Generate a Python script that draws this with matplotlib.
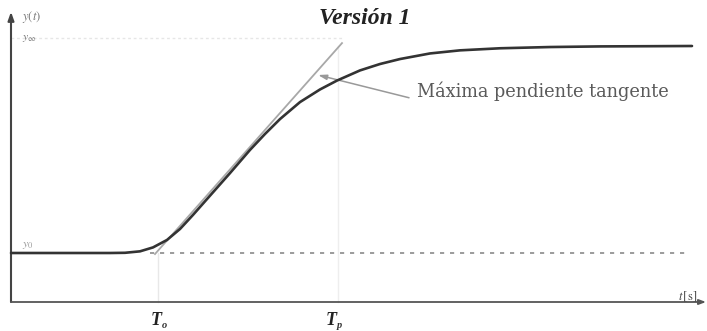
import matplotlib
matplotlib.use("Agg")
import matplotlib.pyplot as plt

# Step response y(t) (t in s, y normalized: y0=0, final=1)
t_curve = [0.0, 9.9, 11.4, 12.9, 14.2, 15.6, 16.9, 18.2, 19.7, 21.9, 23.9, 25.4,
           26.9, 28.9, 30.9, 32.6, 34.9, 36.9, 38.9, 41.9, 44.9, 48.9, 53.9, 58.9,
           63.9, 68.1]
y_curve = [0.0, 0.0, 0.001, 0.008, 0.027, 0.063, 0.116, 0.184, 0.266, 0.386,
           0.498, 0.575, 0.647, 0.729, 0.790, 0.833, 0.882, 0.913, 0.937, 0.964,
           0.979, 0.989, 0.995, 0.998, 0.999, 1.0]

# Maximum-slope tangent line
t_tangent = [14.4, 33.1]
y_tangent = [-0.005, 1.014]

# Reference levels / times
y0_level = 0.0
yinf_level = 1.039
T0 = 14.7
Tp = 32.7

title = "Versión 1"
annot_text = "Máxima pendiente tangente"

fig = plt.figure(figsize=(7.07, 3.31), dpi=100)
ax = fig.add_axes([0, 0, 1, 1])
ax.set_xlim(-1.1, 69.6)
ax.set_ylim(-0.3768, 1.2222)
ax.axis("off")

x_axis_y = -0.2367

# faint guide lines
ax.plot([0, Tp + 0.4], [yinf_level, yinf_level], color="#e6e6e6", lw=1.0,
        linestyle=(0, (2, 2)), zorder=1)
ax.plot([T0, T0], [x_axis_y, y0_level], color="#e8e8e8", lw=1.0, zorder=1)
ax.plot([Tp, Tp], [x_axis_y, 1.0], color="#eeeeee", lw=1.0, zorder=1)

# y0 dashed level
ax.plot([13.9, 67.9], [y0_level, y0_level], color="#8a8a8a", lw=1.2,
        linestyle=(0, (2.5, 3.5)), zorder=2)

# tangent
ax.plot(t_tangent, y_tangent, color="#a8a8a8", lw=1.3, zorder=3)

# response curve
ax.plot(t_curve, y_curve, color="#333333", lw=1.9, zorder=4,
        solid_capstyle="round")

# axes with arrows
ax.annotate("", xy=(0, 1.165), xytext=(0, x_axis_y),
            arrowprops=dict(arrowstyle="-|>,head_length=0.5,head_width=0.18",
                            color="#444444", lw=1.5, shrinkA=0, shrinkB=0))
ax.annotate("", xy=(69.5, x_axis_y), xytext=(0, x_axis_y),
            arrowprops=dict(arrowstyle="-|>,head_length=0.4,head_width=0.15",
                            color="#555555", lw=1.3, shrinkA=0, shrinkB=0))

# annotation
ax.annotate("", xy=(30.7, 0.860), xytext=(39.8, 0.750),
            arrowprops=dict(arrowstyle="-|>,head_length=0.5,head_width=0.15",
                            color="#999999", lw=1.1, shrinkA=0, shrinkB=0))
ax.text(40.6, 0.783, annot_text, family="DejaVu Serif", fontsize=12.8,
        color="#5a5a5a", ha="left", va="center")

# title
ax.text(35.4, 1.135, title, family="Liberation Serif", fontsize=17,
        fontweight="bold", fontstyle="italic", color="#222222",
        ha="center", va="center")

# axis labels
ax.text(1.1, 1.14, r"$y(t)$", fontsize=9, color="#777777", ha="left", va="center",
        math_fontfamily="stix")
ax.text(1.1, 1.04, r"$y_{\infty}$", fontsize=8.5, color="#777777", ha="left",
        va="center", math_fontfamily="stix")
ax.text(1.1, 0.04, r"$y_{0}$", fontsize=8.5, color="#9a9a9a", ha="left",
        va="center", math_fontfamily="stix")
ax.text(67.7, -0.21, r"$t\,[\mathrm{s}]$", fontsize=9, color="#444444",
        ha="center", va="center", math_fontfamily="stix")

for xpos, sub in [(T0 + 0.4, "o"), (Tp - 0.1, "p")]:
    ax.text(xpos, -0.346, "T", family="Liberation Serif", fontsize=13,
            fontweight="bold", fontstyle="italic", color="#222222",
            ha="right", va="baseline")
    ax.text(xpos, -0.360, sub, family="Liberation Serif", fontsize=7.5,
            fontweight="bold", fontstyle="italic", color="#333333",
            ha="left", va="baseline")

fig.savefig("out.png", dpi=100)
